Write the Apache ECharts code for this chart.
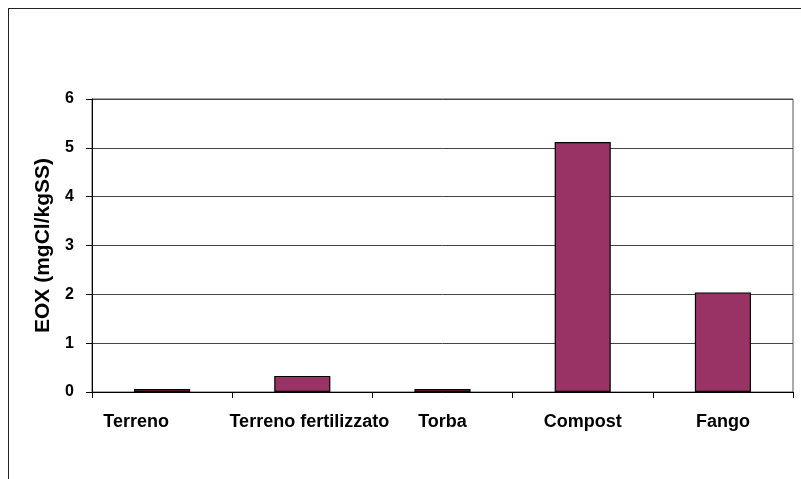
<!DOCTYPE html>
<html>
<head>
    <meta charset="UTF-8">
    <title>EOX</title>
    <style>
        body { margin: 0; background: #fff; }
        .frame {
            position: absolute; left: 8px; top: 8px;
            width: 820px; height: 500px;
            border: 1px solid #222;
        }
        #chart { position: absolute; left: 0; top: 0; width: 801px; height: 479px; }
    </style>
</head>
<body>
    <div class="frame"></div>
    <div id="chart"></div>
    <script src="https://cdn.jsdelivr.net/npm/echarts@6/dist/echarts.min.js"></script>
    <script>
        // dati
        const categories = ['Terreno', 'Terreno fertilizzato', 'Torba', 'Compost', 'Fango'];
        const eoxValues = [0.06, 0.33, 0.06, 5.12, 2.04];
        const yTicks = [0, 1, 2, 3, 4, 5, 6];

        const chart = echarts.init(document.getElementById('chart'));
        const fontFam = 'Liberation Sans, Arial, sans-serif';

        // nel grafico originale le prime due etichette non sono centrate
        const labelPadding = { 'Terreno': [0, 52, 0, 0], 'Terreno fertilizzato': [0, 0, 0, 14] };
        const catData = categories.map(c => labelPadding[c]
            ? { value: c, textStyle: { padding: labelPadding[c] } }
            : c);

        chart.setOption({
            animation: false,
            grid: {
                left: 92, top: 99, right: 8, bottom: 87,
                show: true, borderColor: '#555', borderWidth: 1
            },
            xAxis: {
                type: 'category',
                data: catData,
                axisLine: { lineStyle: { color: '#000', width: 1 } },
                axisTick: { show: true, interval: 0, length: 6, lineStyle: { color: '#000' } },
                axisLabel: { interval: 0, margin: 21, fontFamily: fontFam, fontWeight: 'bold', fontSize: 18, color: '#000' }
            },
            yAxis: {
                type: 'value',
                min: yTicks[0],
                max: yTicks[yTicks.length - 1],
                interval: 1,
                name: 'EOX (mgCl/kgSS)',
                nameLocation: 'middle',
                nameGap: 38,
                nameTextStyle: { fontFamily: fontFam, fontWeight: 'bold', fontSize: 21, color: '#000' },
                axisLine: { show: true, lineStyle: { color: '#000', width: 1 } },
                axisTick: { show: true, length: 6, lineStyle: { color: '#000' } },
                axisLabel: { margin: 18, fontFamily: fontFam, fontWeight: 'bold', fontSize: 16, color: '#000' },
                splitLine: { show: true, lineStyle: { color: '#444', width: 1 } }
            },
            series: [{
                type: 'bar',
                data: eoxValues,
                barWidth: '40%',
                itemStyle: { color: '#993366', borderColor: '#000', borderWidth: 1.2 }
            }]
        });
    </script>
</body>
</html>
